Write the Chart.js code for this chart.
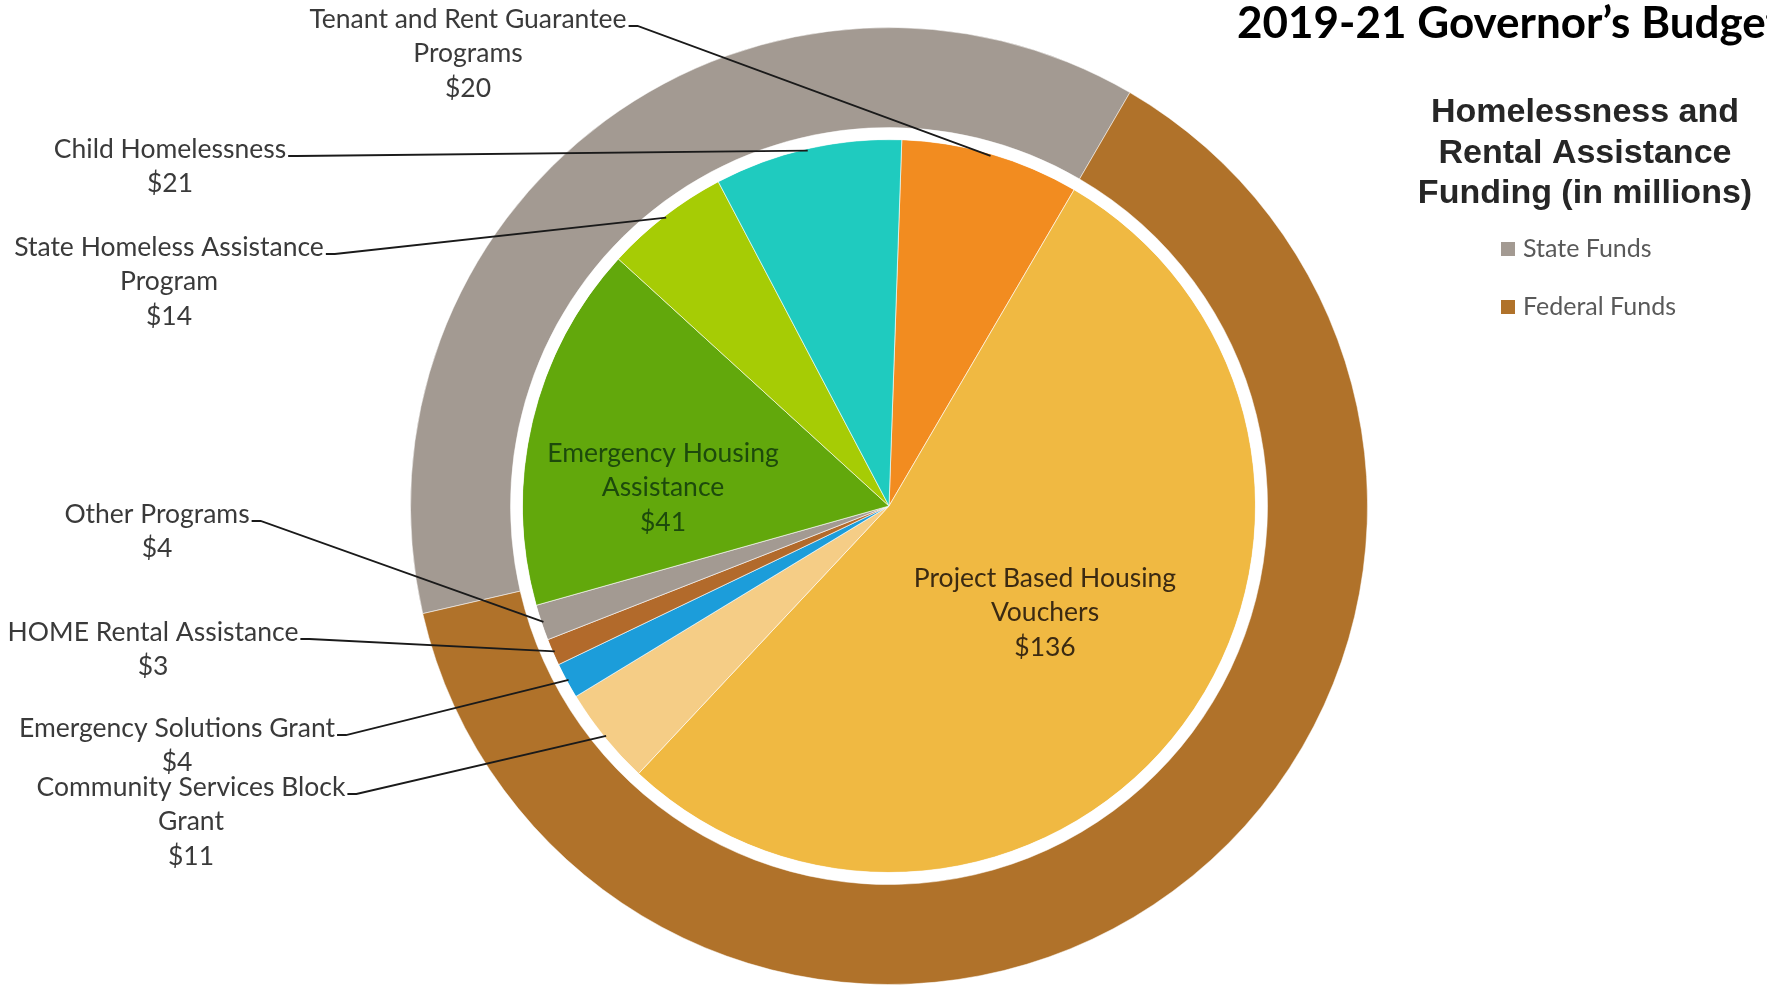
<!DOCTYPE html>
<html>
<head>
<meta charset="utf-8">
<script src="https://cdn.jsdelivr.net/npm/chart.js@4.4.1/dist/chart.umd.min.js"></script>
<style>
  html, body { margin: 0; padding: 0; background: #fff; overflow: hidden; }
  #wrap { position: relative; width: 1767px; height: 994px; }
</style>
</head>
<body>
<div id="wrap"><canvas id="chart" width="1767" height="994"></canvas></div>
<script>
// inner pie, clockwise from 12 o'clock
const programs = [
  'Tenant and Rent Guarantee Programs',
  'Project Based Housing Vouchers',
  'Community Services Block Grant',
  'Emergency Solutions Grant',
  'HOME Rental Assistance',
  'Other Programs',
  'Emergency Housing Assistance',
  'State Homeless Assistance Program',
  'Child Homelessness'
];
const programLines = [
  ['Tenant and Rent Guarantee', 'Programs'],
  ['Project Based Housing', 'Vouchers'],
  ['Community Services Block', 'Grant'],
  ['Emergency Solutions Grant'],
  ['HOME Rental Assistance'],
  ['Other Programs'],
  ['Emergency Housing', 'Assistance'],
  ['State Homeless Assistance', 'Program'],
  ['Child Homelessness']
];
const programValues = [20, 136, 11, 4, 3, 4, 41, 14, 21];
const programColors = ['#F28C20', '#F0B942', '#F5CD86', '#1C9DDA', '#B26A2B', '#A39A92', '#62A80C', '#A6CC05', '#1FCBBF'];

// outer ring (share of the total)
const fundLabels = ['State Funds', 'Federal Funds'];
const fundValues = [94, 160];
const fundColors = ['#A39A92', '#B0722A'];

const pageTitle = '2019-21 Governor’s Budget';
const legendTitle = ['Homelessness and', 'Rental Assistance', 'Funding (in millions)'];

// where the labels sit (layout only)
const callouts = {
  0: { x: 468, y: 19 },
  8: { x: 170, y: 149 },
  7: { x: 169, y: 247 },
  5: { x: 157, y: 514 },
  4: { x: 153, y: 632 },
  3: { x: 177, y: 728 },
  2: { x: 191, y: 787 }
};
const insideLabels = {
  6: { x: 663, y: 453, color: '#1d4a0c' },
  1: { x: 1045, y: 578, color: '#3b2a12' }
};

const labelFont = '26.5px Lato, "Open Sans", sans-serif';
const lineH = 34.5;

const labelsPlugin = {
  id: 'labelsPlugin',
  afterDatasetsDraw(chart) {
    const ctx = chart.ctx;
    const meta = chart.getDatasetMeta(2);
    ctx.save();
    ctx.font = labelFont;
    ctx.textAlign = 'center';
    ctx.textBaseline = 'middle';

    Object.keys(callouts).forEach(k => {
      const i = +k;
      const pos = callouts[i];
      const lines = programLines[i].concat('$' + programValues[i]);
      ctx.fillStyle = '#3a3a3a';
      lines.forEach((t, j) => ctx.fillText(t, pos.x, pos.y + j * lineH));

      const arc = meta.data[i];
      const p = arc.getProps(['x', 'y', 'startAngle', 'endAngle', 'outerRadius'], true);
      const mid = (p.startAngle + p.endAngle) / 2;
      const r = p.outerRadius - 2;
      const ex = p.x + Math.cos(mid) * r;
      const ey = p.y + Math.sin(mid) * r;
      const w = ctx.measureText(lines[0]).width;
      const sx = pos.x + w / 2 + 2;
      const sy = pos.y + 7;
      ctx.strokeStyle = '#1a1a1a';
      ctx.lineWidth = 1.8;
      ctx.beginPath();
      ctx.moveTo(sx, sy);
      ctx.lineTo(sx + 9, sy);
      ctx.lineTo(ex, ey);
      ctx.stroke();
    });

    Object.keys(insideLabels).forEach(k => {
      const i = +k;
      const pos = insideLabels[i];
      const lines = programLines[i].concat('$' + programValues[i]);
      ctx.fillStyle = pos.color;
      lines.forEach((t, j) => ctx.fillText(t, pos.x, pos.y + j * lineH));
    });

    // title, cut off at the right edge like the slide
    ctx.textAlign = 'left';
    ctx.textBaseline = 'alphabetic';
    ctx.fillStyle = '#000';
    ctx.font = 'bold 44px Lato, "Open Sans", sans-serif';
    ctx.fillText(pageTitle, 1237, 38);

    // legend
    ctx.textAlign = 'center';
    ctx.textBaseline = 'middle';
    ctx.fillStyle = '#262626';
    ctx.font = 'bold 34px "Liberation Sans", Arial, sans-serif';
    legendTitle.forEach((t, j) => ctx.fillText(t, 1585, 113 + j * 40.5));

    ctx.textAlign = 'left';
    ctx.font = '25px Lato, "Open Sans", sans-serif';
    fundLabels.forEach((t, j) => {
      const y = 249 + j * 58;
      ctx.fillStyle = fundColors[j];
      ctx.fillRect(1501, y - 7, 14, 14);
      ctx.fillStyle = '#595959';
      ctx.fillText(t, 1523, y);
    });
    ctx.restore();
  }
};

new Chart(document.getElementById('chart'), {
  type: 'doughnut',
  data: {
    labels: programs,
    datasets: [
      {
        label: 'Funds',
        data: fundValues,
        backgroundColor: fundColors,
        borderWidth: 1,
        borderColor: 'rgba(255,255,255,0.5)',
        rotation: -103,
        weight: 100
      },
      {
        label: 'gap',
        data: [1],
        backgroundColor: '#ffffff',
        borderWidth: 0,
        weight: 12
      },
      {
        label: 'Programs',
        data: programValues,
        backgroundColor: programColors,
        borderWidth: 1,
        borderColor: 'rgba(255,255,255,0.6)',
        rotation: 2,
        weight: 366.5
      }
    ]
  },
  options: {
    responsive: false,
    animation: false,
    devicePixelRatio: 1,
    cutout: 0,
    layout: { padding: { left: 410, right: 399, top: 27, bottom: 9 } },
    plugins: {
      legend: { display: false },
      tooltip: { enabled: false }
    }
  },
  plugins: [labelsPlugin]
});
</script>
</body>
</html>
